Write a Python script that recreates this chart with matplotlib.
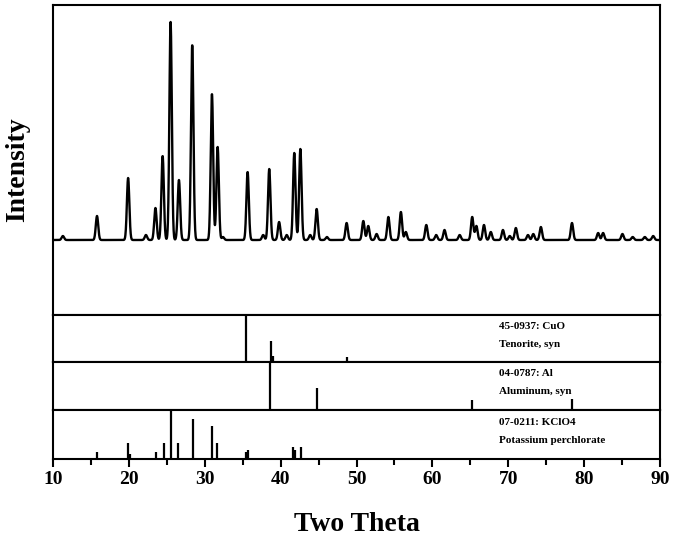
import numpy as np
import matplotlib
matplotlib.use("Agg")
import matplotlib.pyplot as plt

# ---- data: measured pattern peaks (2theta, height above background) ----
peak_pos = [11.3, 15.8, 19.9, 22.25, 23.5, 24.45, 25.5, 26.6, 28.35, 30.95, 31.7, 32.4,
            35.65, 37.7, 38.5, 39.8, 40.8, 41.8, 42.6, 43.9, 44.75, 46.1, 48.7, 50.9,
            51.55, 52.65, 54.2, 55.85, 56.5, 59.2, 60.5, 61.6, 63.6, 65.25, 65.8, 66.8,
            67.7, 69.3, 70.2, 71.0, 72.6, 73.3, 74.3, 78.4, 81.85, 82.5, 85.05, 86.4,
            88.0, 89.1]
peak_height = [4, 24, 62, 5, 32, 84, 218, 60, 195, 146, 93, 3,
               68, 5, 71, 18, 5, 87, 91, 5, 31, 3, 17, 19,
               14, 6, 23, 28, 8, 15, 5, 10, 5, 23, 14, 15,
               8, 10, 4, 12, 5, 6, 13, 17, 7, 7, 6, 3,
               3, 4]
background = 75
peak_sigma = 0.16

# ---- reference cards (2theta, relative intensity %) ----
cuo_pos = [35.5, 38.75, 38.95, 48.75]
cuo_int = [100, 45, 13, 10]
al_pos = [38.6, 44.8, 65.25, 78.4]
al_int = [100, 46, 21, 23]
kclo4_pos = [15.76, 19.9, 20.15, 23.57, 24.58, 25.6, 26.5, 28.45, 31.0, 31.65,
             35.5, 35.7, 41.65, 41.95, 42.75]
kclo4_int = [15, 32, 11, 14, 32, 100, 32, 82, 68, 32, 14, 18, 25, 18, 25]

cards = [
    (cuo_pos, cuo_int, "45-0937: CuO", "Tenorite, syn"),
    (al_pos, al_int, "04-0787: Al", "Aluminum, syn"),
    (kclo4_pos, kclo4_int, "07-0211: KClO4", "Potassium perchlorate"),
]

plt.rcParams['font.family'] = ['Liberation Serif', 'DejaVu Serif']
plt.rcParams['font.weight'] = 'bold'

fig = plt.figure(figsize=(6.75, 5.37), dpi=100)
W, H = 675.0, 537.0
left = 53 / W
width = (660 - 53) / W

def yfrac(top_px, bot_px):
    return 1 - bot_px / H, (bot_px - top_px) / H

b, h = yfrac(5, 315)
ax_main = fig.add_axes([left, b, width, h])
panel_edges = [(315, 362), (362, 410), (410, 459)]
axes_cards = []
for (t, bt) in panel_edges:
    b, h = yfrac(t, bt)
    axes_cards.append(fig.add_axes([left, b, width, h], sharex=ax_main))

x = np.arange(10, 90.001, 0.02)
y = np.full_like(x, background, dtype=float)
for p, hh in zip(peak_pos, peak_height):
    y += hh * np.exp(-0.5 * ((x - p) / peak_sigma) ** 2)

ax_main.plot(x, y, color='black', lw=1.7)
ax_main.set_ylim(0, 310)
ax_main.set_xlim(10, 90)
ax_main.set_yticks([])
ax_main.tick_params(axis='x', bottom=False, labelbottom=False)
ax_main.set_ylabel("Intensity", fontsize=20, fontweight='bold')
ax_main.yaxis.set_label_coords(-0.037, 0.468)

for ax, (pos, inten, l1, l2) in zip(axes_cards, cards):
    ax.vlines(pos, 0, inten, color='black', lw=1.6)
    ax.set_ylim(0, 100)
    ax.set_yticks([])
    ax.text(68.8, 0.75, l1, transform=ax.get_xaxis_transform(), fontsize=8,
            fontweight='bold', va='center', ha='left')
    ax.text(68.8, 0.38, l2, transform=ax.get_xaxis_transform(), fontsize=8,
            fontweight='bold', va='center', ha='left')
    ax.tick_params(axis='x', bottom=False, labelbottom=False)

for ax in [ax_main] + axes_cards:
    for s in ax.spines.values():
        s.set_linewidth(1.5)

axb = axes_cards[-1]
axb.set_xticks(np.arange(10, 91, 10))
axb.set_xticks(np.arange(15, 90, 10), minor=True)
axb.tick_params(axis='x', which='major', bottom=True, labelbottom=True, direction='out',
                length=6, width=1.5, labelsize=14, pad=3)
axb.tick_params(axis='x', which='minor', bottom=True, direction='out', length=4, width=1.5)
for lbl in axb.get_xticklabels():
    lbl.set_fontweight('bold')
axb.set_xlabel("Two Theta", fontsize=20, fontweight='bold', labelpad=17)

fig.savefig("out.png", dpi=100)
